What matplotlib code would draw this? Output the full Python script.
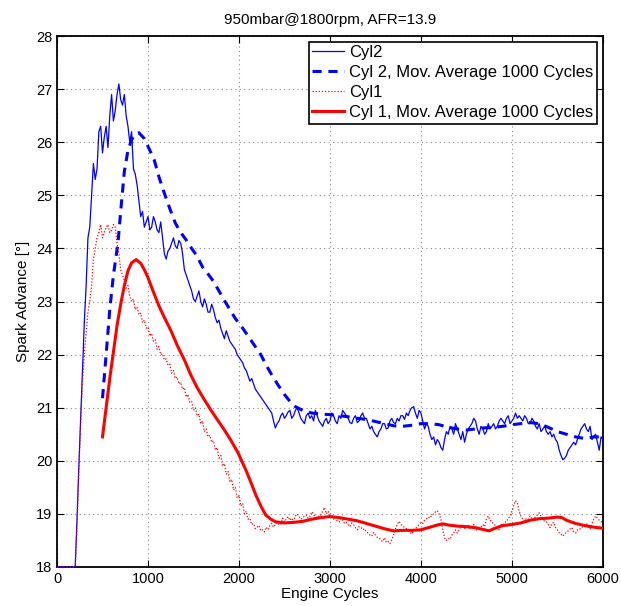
import matplotlib
matplotlib.use("Agg")
import matplotlib.pyplot as plt

plt.rcParams['font.family'] = ['Liberation Sans', 'DejaVu Sans']

title = "950mbar@1800rpm, AFR=13.9"
xlabel = "Engine Cycles"
ylabel = "Spark Advance [°]"
labels = ["Cyl2", "Cyl 2, Mov. Average 1000 Cycles", "Cyl1", "Cyl 1, Mov. Average 1000 Cycles"]

raw_x = list(range(0, 6001, 20))

cyl2_raw = [
    18, 18, 18, 18, 18, 18, 18, 18, 18, 18, 18.0,
    18.9, 19.9, 20.8, 21.7, 22.6, 23.3, 24.2, 24.4, 25.0, 25.6,
    25.3, 25.5, 26.2, 26.3, 25.8, 26.1, 26.3, 25.9, 26.5, 26.9,
    26.4, 26.6, 26.9, 27.1, 26.8, 26.7, 26.9, 26.5, 26.3, 26.0,
    26.2, 25.5, 25.4, 25.2, 24.9, 24.6, 24.7, 24.4, 24.5, 24.6,
    24.35, 24.4, 24.6, 24.5, 24.35, 24.3, 24.5, 24.2, 23.9, 23.8,
    23.95, 24.0, 24.1, 24.2, 24.05, 24.0, 24.15, 24.1, 23.9, 23.6,
    23.5, 23.4, 23.3, 23.2, 23.05, 23.0, 23.1, 23.2, 23.0, 22.9,
    23.05, 22.95, 22.8, 22.8, 22.95, 22.85, 22.7, 22.6, 22.65, 22.5,
    22.4, 22.3, 22.45, 22.35, 22.25, 22.2, 22.15, 22.1, 22.0, 21.95,
    21.9, 21.85, 21.75, 21.7, 21.6, 21.5, 21.55, 21.45, 21.35, 21.3,
    21.25, 21.2, 21.15, 21.1, 21.05, 21.0, 20.95, 20.9, 20.75, 20.62,
    20.7, 20.75, 20.85, 20.9, 20.8, 20.85, 20.92, 20.95, 20.8, 20.85,
    20.95, 21.0, 20.9, 20.8, 20.75, 20.7, 20.85, 20.9, 20.8, 20.85,
    20.75, 20.95, 20.85, 20.75, 20.7, 20.65, 20.75, 20.8, 20.7, 20.75,
    20.9, 20.85, 20.75, 20.7, 20.85, 20.8, 20.95, 20.9, 20.85, 20.8,
    20.72, 20.7, 20.8, 20.85, 20.72, 20.75, 20.85, 20.9, 20.8, 20.8,
    20.7, 20.6, 20.65, 20.55, 20.5, 20.45, 20.55, 20.6, 20.7, 20.7,
    20.6, 20.62, 20.75, 20.8, 20.72, 20.7, 20.8, 20.75, 20.85, 20.85,
    20.78, 20.9, 20.85, 20.95, 21.0, 21.02, 20.9, 20.8, 20.95, 20.9,
    20.75, 20.6, 20.7, 20.65, 20.5, 20.4, 20.45, 20.3, 20.4, 20.35,
    20.25, 20.2, 20.4, 20.55, 20.5, 20.65, 20.6, 20.5, 20.7, 20.6,
    20.5, 20.4, 20.55, 20.35, 20.5, 20.6, 20.65, 20.7, 20.8, 20.75,
    20.6, 20.5, 20.65, 20.6, 20.5, 20.55, 20.7, 20.6, 20.65, 20.7,
    20.6, 20.65, 20.75, 20.8, 20.75, 20.7, 20.8, 20.85, 20.7, 20.75,
    20.8, 20.9, 20.8, 20.85, 20.8, 20.75, 20.85, 20.8, 20.7, 20.7,
    20.8, 20.75, 20.65, 20.6, 20.7, 20.55, 20.6, 20.65, 20.55, 20.5,
    20.55, 20.45, 20.5, 20.4, 20.35, 20.2, 20.1, 20.02, 20.05, 20.1,
    20.2, 20.25, 20.3, 20.35, 20.3, 20.4, 20.5, 20.6, 20.65, 20.7,
    20.6, 20.55, 20.65, 20.4, 20.45, 20.5, 20.35, 20.2, 20.45, 20.4,
]

cyl1_raw = [
    18, 18, 18, 18, 18, 18, 18, 18, 18, 18, 18.0,
    18.8, 19.8, 20.7, 21.5, 22.0, 22.4, 22.8, 23.0, 23.3, 23.8,
    24.0, 24.2, 24.3, 24.45, 24.2, 24.3, 24.4, 24.45, 24.3, 24.35,
    24.45, 24.4, 24.1, 23.9, 23.6, 23.5, 23.4, 23.25, 23.3, 23.1,
    23.0, 23.05, 22.85, 22.9, 22.75, 22.78, 22.6, 22.65, 22.5, 22.52,
    22.35, 22.4, 22.25, 22.28, 22.1, 22.15, 22.0, 22.02, 21.9, 21.92,
    21.8, 21.82, 21.65, 21.7, 21.55, 21.58, 21.45, 21.48, 21.35, 21.38,
    21.2, 21.25, 21.1, 21.12, 20.95, 21.0, 20.85, 20.88, 20.7, 20.75,
    20.55, 20.6, 20.45, 20.48, 20.35, 20.38, 20.2, 20.25, 20.05, 20.1,
    19.9, 19.95, 19.75, 19.8, 19.6, 19.65, 19.45, 19.5, 19.3, 19.35,
    19.15, 19.2, 19.0, 19.05, 18.9, 18.92, 18.8, 18.82, 18.72, 18.75,
    18.78, 18.68, 18.7, 18.66, 18.75, 18.7, 18.78, 18.82, 18.75, 18.8,
    18.84, 18.8, 18.8, 18.92, 18.85, 18.9, 18.95, 18.88, 18.92, 18.85,
    18.96, 19.0, 18.95, 18.9, 18.92, 18.96, 18.98, 18.92, 18.95, 19.04,
    19.0, 18.94, 18.92, 18.97, 18.98, 19.05, 19.12, 19.0, 19.05, 18.98,
    18.95, 18.9, 18.94, 18.86, 18.85, 18.92, 18.88, 18.82, 18.84, 18.8,
    18.76, 18.83, 18.8, 18.74, 18.7, 18.76, 18.75, 18.7, 18.72, 18.66,
    18.64, 18.6, 18.58, 18.65, 18.6, 18.56, 18.55, 18.5, 18.48, 18.55,
    18.46, 18.48, 18.44, 18.52, 18.6, 18.72, 18.8, 18.86, 18.8, 18.78,
    18.74, 18.72, 18.7, 18.65, 18.62, 18.69, 18.72, 18.76, 18.8, 18.84,
    18.82, 18.88, 18.9, 18.94, 18.92, 18.98, 19.0, 19.04, 19.06, 19.0,
    18.9, 18.7, 18.55, 18.5, 18.54, 18.52, 18.6, 18.64, 18.7, 18.64,
    18.7, 18.76, 18.8, 18.72, 18.76, 18.8, 18.72, 18.76, 18.8, 18.7,
    18.7, 18.74, 18.76, 18.8, 18.76, 18.9, 18.96, 18.88, 18.86, 18.8,
    18.78, 18.74, 18.7, 18.8, 18.78, 18.84, 18.85, 18.92, 18.95, 19.05,
    19.15, 19.25, 19.2, 19.05, 18.95, 18.9, 18.86, 18.92, 18.9, 18.96,
    18.92, 18.88, 18.96, 18.98, 19.02, 18.95, 18.9, 18.86, 18.85, 18.8,
    18.74, 18.82, 18.84, 18.74, 18.7, 18.64, 18.62, 18.58, 18.62, 18.66,
    18.68, 18.72, 18.74, 18.66, 18.64, 18.7, 18.7, 18.74, 18.76, 18.8,
    18.82, 18.74, 18.72, 18.82, 18.9, 18.96, 18.92, 18.88, 18.85, 18.86,
]

ma2_x = [500, 540, 580, 620, 670, 700, 740, 780, 820, 860, 900, 960, 1020, 1070, 1120, 1180, 1240,
         1300, 1360, 1420, 1480, 1530, 1600, 1660, 1720, 1780, 1840, 1900, 1960, 2020, 2100, 2160,
         2240, 2300, 2360, 2440, 2500, 2560, 2620, 2700, 2800, 2900, 3000, 3100, 3200, 3300, 3400,
         3500, 3600, 3700, 3800, 3900, 4000, 4100, 4200, 4300, 4400, 4500, 4600, 4700, 4800, 4900,
         5000, 5100, 5200, 5300, 5400, 5500, 5600, 5700, 5800, 5900, 6000]
ma2_y = [21.18, 22.0, 22.85, 23.5, 24.1, 24.7, 25.45, 25.85, 26.05, 26.15, 26.18, 26.07, 25.85, 25.66,
         25.35, 25.04, 24.75, 24.48, 24.3, 24.16, 24.0, 23.88, 23.65, 23.52, 23.38, 23.2, 23.02, 22.85,
         22.68, 22.55, 22.35, 22.2, 22.0, 21.8, 21.62, 21.4, 21.25, 21.12, 21.02, 20.95, 20.9, 20.88,
         20.87, 20.85, 20.83, 20.8, 20.78, 20.74, 20.7, 20.66, 20.65, 20.67, 20.7, 20.7, 20.68, 20.63,
         20.6, 20.58, 20.6, 20.62, 20.63, 20.65, 20.68, 20.7, 20.72, 20.7, 20.63, 20.55, 20.5, 20.45,
         20.42, 20.45, 20.45]

ma1_x = [500, 540, 580, 620, 660, 700, 740, 780, 820, 870, 920, 960, 1000, 1060, 1120, 1180, 1250,
         1320, 1400, 1470, 1540, 1620, 1690, 1760, 1840, 1910, 1990, 2075, 2130, 2184, 2240, 2294,
         2350, 2404, 2500, 2600, 2700, 2800, 2900, 3000, 3100, 3200, 3300, 3400, 3500, 3600, 3700,
         3800, 3900, 4000, 4100, 4200, 4250, 4300, 4400, 4500, 4600, 4700, 4750, 4800, 4900, 5000,
         5100, 5200, 5300, 5400, 5500, 5550, 5600, 5700, 5800, 5900, 6000]
ma1_y = [20.45, 21.0, 21.55, 22.05, 22.55, 22.95, 23.3, 23.58, 23.73, 23.79, 23.72, 23.6, 23.45, 23.18,
         22.92, 22.7, 22.46, 22.18, 21.9, 21.62, 21.38, 21.15, 20.96, 20.78, 20.58, 20.39, 20.15, 19.83,
         19.6, 19.36, 19.15, 18.98, 18.9, 18.85, 18.83, 18.84, 18.86, 18.9, 18.93, 18.95, 18.93, 18.9,
         18.87, 18.82, 18.77, 18.72, 18.68, 18.69, 18.69, 18.7, 18.75, 18.8, 18.81, 18.79, 18.77, 18.76,
         18.74, 18.7, 18.68, 18.72, 18.78, 18.8, 18.83, 18.88, 18.91, 18.92, 18.94, 18.93, 18.88, 18.82,
         18.78, 18.75, 18.73]

fig = plt.figure(figsize=(6.21, 6.06), dpi=100)
ax = fig.add_axes([0.0918, 0.0644, 0.879, 0.876])

ax.plot(raw_x, cyl2_raw, color='#0000ff', lw=0.9, label=labels[0], zorder=3, clip_on=False)
ax.plot(ma2_x, ma2_y, color='#0000ff', lw=2.2, ls=(0, (3, 2.2)), label=labels[1], zorder=3)
ax.plot(raw_x, cyl1_raw, color='#ff0000', lw=0.9, ls=(0, (1, 1.5)), label=labels[2], zorder=3,
        clip_on=False)
ax.plot(ma1_x, ma1_y, color='#ff0000', lw=2.2, label=labels[3], zorder=3)

ax.set_xlim(0, 6000)
ax.set_ylim(18, 28)
ax.set_xticks(range(0, 6001, 1000))
ax.set_yticks(range(18, 29))
ax.grid(True, color='#888888', ls=(0, (1, 3)), lw=0.8)
ax.tick_params(direction='in', top=True, right=True, labelsize=10.5, length=5, width=0.8)
for s in ax.spines.values():
    s.set_linewidth(1.3)
    s.set_zorder(2.5)

ax.set_title(title, fontsize=11, pad=9)
ax.set_xlabel(xlabel, fontsize=11, labelpad=1)
ax.set_ylabel(ylabel, fontsize=11, labelpad=4)

leg = ax.legend(loc='upper right', fontsize=12, fancybox=False, framealpha=1,
                edgecolor='black', handlelength=1.95, handletextpad=0.3, borderpad=0.2,
                labelspacing=0.3, borderaxespad=0.35)
leg.get_frame().set_linewidth(1.2)
leg.set_zorder(5)

fig.savefig("out.png", dpi=100)
